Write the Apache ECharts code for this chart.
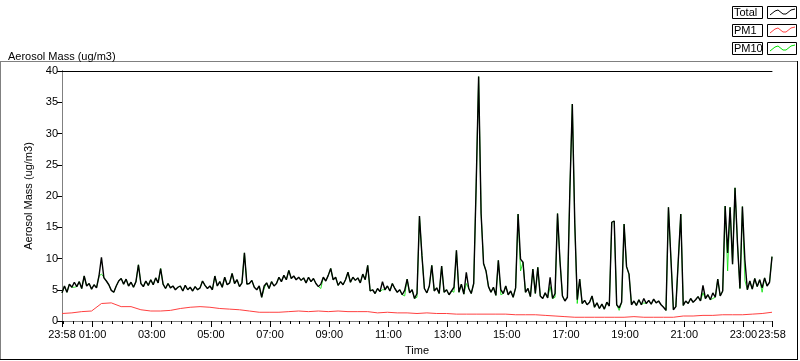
<!DOCTYPE html>
<html>
<head>
<meta charset="utf-8">
<script src="https://cdn.jsdelivr.net/npm/echarts@6/dist/echarts.min.js"></script>
<style>
html,body{margin:0;padding:0;background:#fff;}
#chart{width:800px;height:361px;}
</style>
</head>
<body>
<div id="chart"></div>
<script>
// ---- data (minutes after 23:58 start, 24 h window) ----
const totalStepMin = 5;
const totalValues = [
  4.5,5.6,4.6,5.9,5.4,6.2,5.5,6.3,5.2,7.2,
  5.6,6.0,5.1,5.8,5.3,7.2,10.2,6.9,6.4,5.8,
  4.9,4.6,5.6,6.4,6.8,5.9,6.7,5.6,6.2,5.4,
  6.3,9.0,6.0,5.5,6.4,5.7,6.6,5.8,6.9,6.1,
  8.4,5.9,5.2,6.0,5.3,5.6,5.0,5.4,5.6,4.8,
  5.7,5.0,5.4,4.8,5.5,5.0,5.3,6.4,5.7,5.2,
  5.6,5.0,7.2,5.6,6.3,5.4,7.0,5.8,6.1,7.6,
  6.0,6.6,5.5,6.1,10.9,5.9,6.0,6.5,5.4,5.0,
  5.6,3.8,5.6,6.1,5.2,6.3,5.6,6.0,7.0,6.3,
  7.3,6.6,8.1,6.8,7.2,6.6,7.0,6.5,6.9,6.1,
  7.0,6.3,6.8,6.0,5.5,5.9,7.0,6.4,7.3,8.4,
  6.6,7.0,5.7,6.3,5.8,6.6,7.8,6.2,7.0,6.5,
  6.9,6.1,7.5,6.6,8.9,4.8,5.0,4.4,5.2,4.7,
  6.3,5.0,5.6,4.8,6.0,5.2,4.6,5.0,4.2,4.9,
  6.7,4.5,5.0,3.6,4.4,16.8,10.5,5.2,4.5,5.6,
  8.9,4.8,5.3,4.4,8.8,4.6,5.0,4.2,4.8,5.4,
  11.3,4.6,5.9,4.3,7.8,5.2,4.4,6.0,21.7,39.1,
  17.2,9.2,8.0,5.5,4.6,5.4,4.1,9.7,5.0,4.4,
  5.6,4.2,4.8,3.8,5.3,17.1,9.9,9.4,4.6,5.2,
  3.9,8.3,4.4,8.6,4.0,3.6,4.5,3.7,7.0,3.6,
  4.4,17.2,9.6,4.0,3.2,3.8,20.8,34.7,15.6,3.4,
  6.7,2.8,3.3,2.6,3.0,4.0,2.2,2.9,2.0,2.7,
  1.9,3.0,2.4,15.8,16.0,2.6,2.1,3.0,15.5,8.7,
  7.5,2.6,3.2,2.5,3.4,2.6,3.6,2.8,3.3,2.7,
  3.5,2.9,3.2,2.6,2.2,1.7,18.2,10.0,1.8,2.3,
  9.8,17.1,2.5,3.2,2.8,3.6,3.0,3.4,3.9,3.2,
  5.7,3.6,4.2,3.4,4.5,3.8,6.7,4.0,4.8,18.4,
  10.9,18.2,9.1,21.3,12.4,5.2,18.3,9.8,5.0,6.4,
  5.1,6.8,5.5,6.6,5.3,6.9,5.6,6.2,10.3
];
const pm1StepMin = 20;
const pm1Values = [
  1.2,1.3,1.5,1.6,2.8,2.9,2.3,2.3,1.8,1.6,
  1.6,1.7,2.0,2.2,2.3,2.2,2.0,1.9,1.8,1.6,
  1.4,1.4,1.4,1.5,1.6,1.5,1.6,1.5,1.6,1.5,
  1.5,1.5,1.3,1.4,1.3,1.3,1.2,1.3,1.2,1.2,
  1.1,1.1,1.1,1.1,1.1,1.1,1.0,1.0,1.0,0.9,
  0.8,0.7,0.6,0.6,0.6,0.6,0.6,0.6,0.7,0.6,
  0.6,0.6,0.6,0.8,0.8,0.9,0.9,1.0,1.0,1.0,
  1.1,1.2,1.4
];
const pm10StepMin = 5;
const pm10Values = [
  4.5,5.6,4.6,5.9,5.4,5.4,5.5,6.3,5.2,7.2,
  5.6,6.0,5.1,5.8,5.3,7.2,7.5,7.0,6.4,5.8,
  4.9,4.6,5.6,6.4,6.8,5.9,6.7,5.6,6.2,5.4,
  6.3,9.0,6.0,5.5,6.4,5.7,6.6,5.8,6.9,6.1,
  8.4,5.9,5.2,6.0,5.3,5.6,5.0,5.4,5.6,4.8,
  5.7,5.0,5.4,4.8,5.5,5.0,5.3,6.4,5.7,5.2,
  5.6,5.0,7.2,5.6,6.3,5.4,7.0,5.8,6.1,7.6,
  6.0,6.6,5.5,6.1,10.9,5.9,6.0,6.5,5.4,5.0,
  5.6,3.8,5.2,6.1,5.2,6.3,5.6,6.0,7.0,6.3,
  7.3,6.6,8.1,6.8,7.2,6.6,7.0,6.5,6.9,6.1,
  7.0,6.3,6.8,6.0,5.5,5.2,7.0,6.4,7.3,8.4,
  6.6,7.0,5.7,6.3,5.8,6.6,7.8,6.2,7.0,6.5,
  6.9,6.1,7.5,6.6,8.9,4.8,5.0,4.4,5.2,4.7,
  5.0,5.0,5.6,4.8,6.0,5.2,4.6,5.0,4.2,4.0,
  6.7,4.5,5.0,3.6,3.8,16.8,10.5,5.2,4.5,5.6,
  8.9,4.8,5.3,4.4,8.8,4.6,5.0,4.2,4.8,4.6,
  11.3,4.6,5.9,4.3,6.0,5.2,4.4,6.0,21.7,39.1,
  17.2,9.2,8.0,5.5,4.6,5.4,4.1,9.7,4.2,4.4,
  5.6,4.2,4.8,3.8,5.3,17.1,8.0,9.4,4.6,5.2,
  3.9,8.3,4.4,8.6,4.0,3.6,4.5,3.7,5.5,3.6,
  3.8,17.2,9.6,4.0,3.2,3.8,20.8,34.7,15.6,2.8,
  6.7,2.8,3.3,2.6,3.0,4.0,2.2,2.9,2.0,2.7,
  1.9,3.0,2.4,15.8,16.0,2.6,1.7,3.0,15.5,8.7,
  7.5,2.6,3.2,2.5,3.4,2.6,2.9,2.8,3.3,2.7,
  3.5,2.9,3.2,2.6,2.2,1.7,18.2,10.0,1.8,2.3,
  9.8,17.1,2.5,3.2,2.8,3.6,3.0,3.4,3.9,3.2,
  4.5,3.6,4.2,3.4,3.6,3.8,6.7,4.0,4.8,18.4,
  8.0,18.2,9.1,21.3,12.4,5.2,18.3,6.5,5.0,6.4,
  5.1,6.8,5.5,6.6,4.6,6.9,5.6,6.2,10.3
];
const xLabelMinutes = [0,62,182,302,422,542,662,782,902,1022,1142,1262,1382,1440];
const xLabelTexts = ['23:58','01:00','03:00','05:00','07:00','09:00','11:00','13:00','15:00','17:00','19:00','21:00','23:00','23:58'];
const seriesNames = ['Total','PM1','PM10'];
const seriesColors = ['#000000','#ff4040','#00e000'];

// ---- build ----
const FONT = "'Liberation Sans', Arial, sans-serif";
const toPairs = (vals, step) => vals.map((v, i) => [i * step, v]);
const minorTicks = [];
for (let m = 2; m <= 1440; m += 20) minorTicks.push(m);

const chart = echarts.init(document.getElementById('chart'), null, {renderer: 'canvas'});

const legendChildren = [];
seriesNames.forEach((name, k) => {
  const y0 = 6 + k * 18;
  legendChildren.push(
    {type: 'rect', shape: {x: 732.5, y: y0 + 0.5, width: 30, height: 12}, style: {fill: '#fff', stroke: '#000', lineWidth: 1}},
    {type: 'text', x: 734, y: y0 + 7, style: {text: name, font: '11px ' + FONT, fill: '#000', verticalAlign: 'middle'}},
    {type: 'rect', shape: {x: 767.5, y: y0 + 0.5, width: 29, height: 12}, style: {fill: '#fff', stroke: '#000', lineWidth: 1}},
    {type: 'polyline', shape: {points: [[770, y0 + 9], [775, y0 + 5], [778, y0 + 4], [783, y0 + 8], [786, y0 + 8], [791, y0 + 4], [795, y0 + 3]]}, style: {stroke: seriesColors[k], lineWidth: 1, fill: null}}
  );
});

const option = {
  animation: false,
  backgroundColor: '#fff',
  textStyle: {fontFamily: FONT},
  title: {
    text: 'Aerosol Mass (ug/m3)', left: 3, top: 46,
    textStyle: {fontSize: 11, fontWeight: 'normal', color: '#000', fontFamily: FONT}
  },
  grid: {left: 62, right: 28, top: 71, bottom: 39, containLabel: false},
  xAxis: [
    {
      type: 'value', min: 0, max: 1440, position: 'bottom',
      name: 'Time', nameLocation: 'middle', nameGap: 24,
      nameTextStyle: {fontSize: 11, color: '#000', fontFamily: FONT},
      axisLine: {show: true, lineStyle: {color: '#808080', width: 1}},
      axisTick: {show: true, length: 6, customValues: xLabelMinutes, lineStyle: {color: '#000'}},
      axisLabel: {
        show: true, customValues: xLabelMinutes, margin: 8, fontSize: 11, color: '#000', fontFamily: FONT,
        formatter: (v) => { const k = xLabelMinutes.indexOf(Math.round(v)); return k >= 0 ? xLabelTexts[k] : ''; }
      },
      splitLine: {show: false}
    },
    {
      type: 'value', min: 0, max: 1440, position: 'bottom',
      axisLine: {show: false},
      axisTick: {show: true, length: 3, customValues: minorTicks, lineStyle: {color: '#000'}},
      axisLabel: {show: false},
      splitLine: {show: false}
    },
    {
      type: 'value', min: 0, max: 1440, position: 'top',
      axisLine: {show: true, lineStyle: {color: '#000', width: 1}},
      axisTick: {show: false}, axisLabel: {show: false}, splitLine: {show: false}
    }
  ],
  yAxis: [
    {
      type: 'value', min: 0, max: 40, interval: 5, position: 'left',
      name: 'Aerosol Mass (ug/m3)', nameLocation: 'middle', nameRotate: 90, nameGap: 24,
      nameTextStyle: {fontSize: 11, color: '#000', fontFamily: FONT},
      axisLine: {show: true, lineStyle: {color: '#000', width: 1}},
      axisTick: {show: true, length: 5, lineStyle: {color: '#000'}},
      axisLabel: {fontSize: 11, color: '#000', margin: 4, fontFamily: FONT},
      splitLine: {show: false}
    },
    {
      type: 'value', min: 0, max: 40, position: 'right',
      axisLine: {show: true, lineStyle: {color: '#808080', width: 1}},
      axisTick: {show: false}, axisLabel: {show: false}, splitLine: {show: false}
    }
  ],
  series: [
    {
      name: seriesNames[0], type: 'line', xAxisIndex: 0, yAxisIndex: 0, z: 4,
      data: toPairs(totalValues, totalStepMin), showSymbol: false, symbol: 'none',
      lineStyle: {color: seriesColors[0], width: 1.4}, sampling: null
    },
    {
      name: seriesNames[1], type: 'line', xAxisIndex: 0, yAxisIndex: 0, z: 3,
      data: toPairs(pm1Values, pm1StepMin), showSymbol: false, symbol: 'none',
      lineStyle: {color: seriesColors[1], width: 1}
    },
    {
      name: seriesNames[2], type: 'line', xAxisIndex: 0, yAxisIndex: 0, z: 2,
      data: toPairs(pm10Values, pm10StepMin), showSymbol: false, symbol: 'none',
      lineStyle: {color: seriesColors[2], width: 0.8}
    }
  ],
  graphic: [
    {type: 'line', shape: {x1: 0, y1: 61.5, x2: 798, y2: 61.5}, style: {stroke: '#808080', lineWidth: 1}, silent: true},
    {type: 'line', shape: {x1: 0.5, y1: 61, x2: 0.5, y2: 360}, style: {stroke: '#808080', lineWidth: 1}, silent: true},
    {type: 'line', shape: {x1: 0, y1: 359.5, x2: 798, y2: 359.5}, style: {stroke: '#000', lineWidth: 1}, silent: true},
    {type: 'line', shape: {x1: 797.5, y1: 61, x2: 797.5, y2: 360}, style: {stroke: '#000', lineWidth: 1}, silent: true},
    {type: 'group', children: legendChildren}
  ]
};
chart.setOption(option);
</script>
</body>
</html>
